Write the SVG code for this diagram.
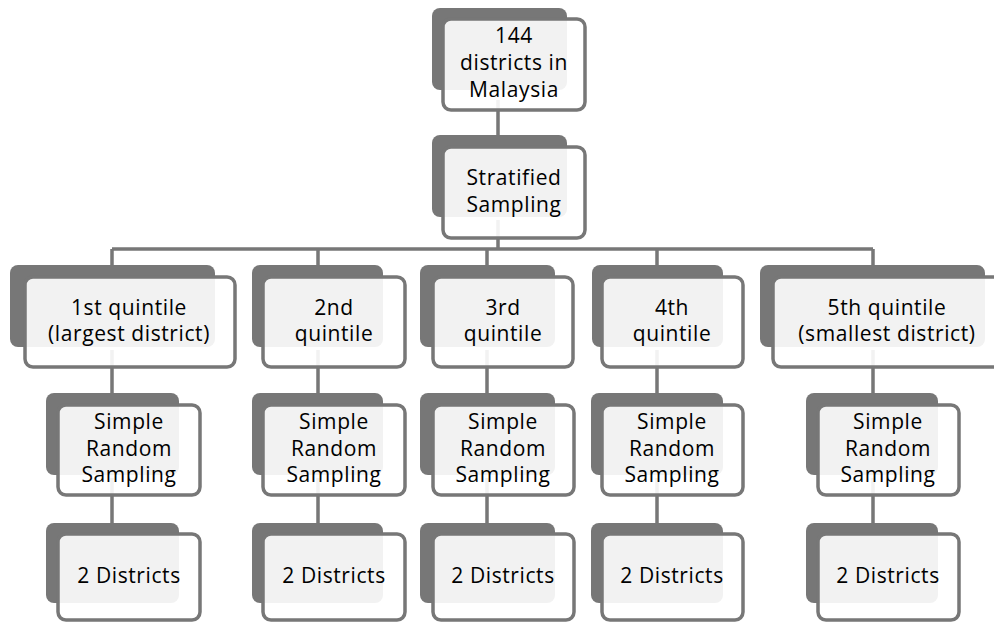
<svg xmlns="http://www.w3.org/2000/svg" width="994" height="622" viewBox="0 0 994 622">
<style>
.bk{fill:#777777;}
.fr{fill:#ffffff;fill-opacity:0.9;stroke:#777777;stroke-width:3.5;}
.cn{fill:none;stroke:#777777;stroke-width:3.5;}
text{font-family:"Open Sans","Liberation Sans",sans-serif;font-size:21px;font-weight:500;fill:#000000;text-anchor:middle;letter-spacing:0.6px;}
</style>
<rect width="994" height="622" fill="#ffffff"/>
<g id="connectors">
<path class="cn" d="M498 100V140M498 220V249M112 249H873M112 249V270M318 249V270M487 249V270M657 249V270M873 249V270"/>
<path class="cn" d="M112 350V398M318 350V398M487 350V398M657 350V398M873 350V398"/>
<path class="cn" d="M112 478V528M318 478V528M487 478V528M657 478V528M873 478V528"/>
</g>
<g id="n-top">
<rect class="bk" x="432" y="8" width="135" height="82" rx="8"/>
<rect class="fr" x="443" y="19" width="142" height="91" rx="8"/>
<text x="514" y="43">144</text><text x="514" y="70">districts in</text><text x="514" y="97">Malaysia</text>
</g>
<g id="n-strat">
<rect class="bk" x="432" y="135" width="135" height="82" rx="8"/>
<rect class="fr" x="443" y="147" width="142" height="91" rx="8"/>
<text x="514" y="185">Stratified</text><text x="514" y="212">Sampling</text>
</g>
<g id="n-q1">
<rect class="bk" x="10" y="265" width="205" height="82" rx="8"/>
<rect class="fr" x="25" y="277" width="210" height="90" rx="8"/>
<text x="129" y="315">1st quintile</text><text x="129" y="341">(largest district)</text>
</g>
<g id="n-q2">
<rect class="bk" x="252" y="265" width="131" height="82" rx="8"/>
<rect class="fr" x="263" y="277" width="142" height="90" rx="8"/>
<text x="334" y="315">2nd</text><text x="334" y="341">quintile</text>
</g>
<g id="n-q3">
<rect class="bk" x="420" y="265" width="135" height="82" rx="8"/>
<rect class="fr" x="433" y="277" width="140" height="90" rx="8"/>
<text x="503" y="315">3rd</text><text x="503" y="341">quintile</text>
</g>
<g id="n-q4">
<rect class="bk" x="592" y="265" width="131" height="82" rx="8"/>
<rect class="fr" x="602" y="277" width="141" height="90" rx="8"/>
<text x="672" y="315">4th</text><text x="672" y="341">quintile</text>
</g>
<g id="n-q5">
<rect class="bk" x="760" y="265" width="225" height="82" rx="8"/>
<rect class="fr" x="773" y="277" width="240" height="90" rx="8"/>
<text x="887" y="315">5th quintile</text><text x="887" y="341">(smallest district)</text>
</g>
<g id="n-s1">
<rect class="bk" x="46" y="393" width="133" height="82" rx="8"/>
<rect class="fr" x="58" y="405" width="142" height="90" rx="8"/>
<text x="129" y="429">Simple</text><text x="129" y="456">Random</text><text x="129" y="482">Sampling</text>
</g>
<g id="n-s2">
<rect class="bk" x="252" y="393" width="131" height="82" rx="8"/>
<rect class="fr" x="263" y="405" width="142" height="90" rx="8"/>
<text x="334" y="429">Simple</text><text x="334" y="456">Random</text><text x="334" y="482">Sampling</text>
</g>
<g id="n-s3">
<rect class="bk" x="420" y="393" width="135" height="82" rx="8"/>
<rect class="fr" x="433" y="405" width="141" height="90" rx="8"/>
<text x="503" y="429">Simple</text><text x="503" y="456">Random</text><text x="503" y="482">Sampling</text>
</g>
<g id="n-s4">
<rect class="bk" x="591" y="393" width="132" height="82" rx="8"/>
<rect class="fr" x="602" y="405" width="141" height="90" rx="8"/>
<text x="672" y="429">Simple</text><text x="672" y="456">Random</text><text x="672" y="482">Sampling</text>
</g>
<g id="n-s5">
<rect class="bk" x="806" y="393" width="132" height="82" rx="8"/>
<rect class="fr" x="818" y="405" width="141" height="90" rx="8"/>
<text x="888" y="429">Simple</text><text x="888" y="456">Random</text><text x="888" y="482">Sampling</text>
</g>
<g id="n-d1">
<rect class="bk" x="46" y="523" width="133" height="80" rx="8"/>
<rect class="fr" x="58" y="534" width="142" height="86" rx="8"/>
<text x="129" y="583">2 Districts</text>
</g>
<g id="n-d2">
<rect class="bk" x="252" y="523" width="131" height="80" rx="8"/>
<rect class="fr" x="263" y="534" width="142" height="86" rx="8"/>
<text x="334" y="583">2 Districts</text>
</g>
<g id="n-d3">
<rect class="bk" x="420" y="523" width="135" height="80" rx="8"/>
<rect class="fr" x="433" y="534" width="141" height="86" rx="8"/>
<text x="503" y="583">2 Districts</text>
</g>
<g id="n-d4">
<rect class="bk" x="591" y="523" width="132" height="80" rx="8"/>
<rect class="fr" x="602" y="534" width="141" height="86" rx="8"/>
<text x="672" y="583">2 Districts</text>
</g>
<g id="n-d5">
<rect class="bk" x="806" y="523" width="132" height="80" rx="8"/>
<rect class="fr" x="818" y="534" width="141" height="86" rx="8"/>
<text x="888" y="583">2 Districts</text>
</g>
</svg>
